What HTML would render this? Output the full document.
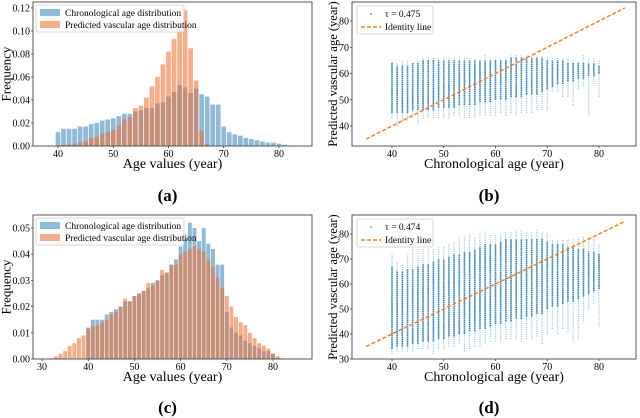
<!DOCTYPE html>
<html><head><meta charset="utf-8">
<style>
html,body{margin:0;padding:0;background:#fff;}
svg{display:block;font-family:"Liberation Serif","DejaVu Serif",serif;}
svg text{font-family:"Liberation Serif","DejaVu Serif",serif;}
</style></head>
<body>
<svg id="fig" width="640" height="418" viewBox="0 0 640 418"></svg>
<script>
// ---- data ----
const histAges = [32,33,34,35,36,37,38,39,40,41,42,43,44,45,46,47,48,49,50,51,52,53,54,55,56,57,58,59,60,61,62,63,64,65,66,67,68,69,70,71,72,73,74,75,76,77,78,79,80,81,82];
const chronoA = [0,0,0,0,0,0,0,0,0.012,0.015,0.015,0.015,0.017,0.017,0.019,0.020,0.022,0.023,0.024,0.026,0.028,0.028,0.030,0.031,0.033,0.033,0.037,0.038,0.043,0.047,0.053,0.051,0.046,0.050,0.045,0.043,0.036,0.036,0.017,0.012,0.010,0.009,0.007,0.006,0.005,0.004,0.003,0.003,0.002,0.001,0.0005];
const predA = [0,0,0,0,0,0,0,0,0,0.001,0.001,0.002,0.003,0.004,0.007,0.008,0.011,0.012,0.014,0.018,0.023,0.025,0.033,0.035,0.042,0.052,0.060,0.071,0.082,0.093,0.101,0.118,0.085,0.057,0.013,0.002,0,0,0,0,0,0,0,0,0,0,0,0,0,0,0];
const chronoC = [0,0,0,0,0,0,0,0,0.012,0.015,0.015,0.015,0.017,0.018,0.019,0.020,0.022,0.022,0.024,0.025,0.026,0.027,0.029,0.030,0.032,0.033,0.036,0.038,0.043,0.046,0.052,0.050,0.045,0.050,0.044,0.042,0.036,0.036,0.018,0.012,0.010,0.009,0.007,0.006,0.005,0.004,0.003,0.003,0.002,0.0005,0];
const predC = [0.0003,0.001,0.002,0.003,0.005,0.006,0.008,0.009,0.0115,0.0125,0.013,0.014,0.015,0.017,0.018,0.020,0.023,0.022,0.024,0.025,0.026,0.029,0.028,0.030,0.034,0.033,0.036,0.036,0.040,0.041,0.042,0.043,0.042,0.041,0.038,0.035,0.031,0.027,0.024,0.020,0.016,0.014,0.013,0.010,0.008,0.006,0.005,0.004,0.002,0.001,0.0003];
const scatAges = [40,41,42,43,44,45,46,47,48,49,50,51,52,53,54,55,56,57,58,59,60,61,62,63,64,65,66,67,68,69,70,71,72,73,74,75,76,77,78,79,80];
const loB = [43,40,42,42,43,41,43,43,43,43,43,43,44,44,43,43,43,44,44,44,44,45,44,45,44,45,45,45,46,46,46,53,53,51,51,48,54,55,44,56,51];
const hiB = [65,64,65,65,64,65,66,66,66,66,66,66,66,66,66,66,66,66,67,66,66,66,66,67,67,67,67,67,67,67,67,66,66,66,66,65,65,67,66,66,65];
const coreLoB = [45,45,45,45,46,46,46,46,46,47,47,47,47,48,48,48,48,49,49,49,50,50,50,51,51,51,52,52,52,53,54,55,56,56,57,57,58,58,59,59,60];
const coreHiB = [64,63,63,63,64,64,65,65,65,65,65,65,65,65,65,65,65,65,65,65,65,65,65,66,66,66,66,66,66,66,65,65,65,65,64,64,64,64,64,64,63];
const loD = [32,33,33,33,33,34,34,34,32,34,34,35,35,36,33,34,35,35,36,37,37,37,38,38,38,37,38,38,39,36,40,42,40,42,41,37,38,45,50,52,43];
const hiD = [72,69,68,72,74,74,74,74,74,75,75,76,77,79,79,80,79,81,81,80,80,80,81,81,82,82,81,81,82,81,80,78,78,78,78,78,78,79,79,78,76];
const coreLoD = [34,35,35,35,36,36,37,37,37,38,38,39,39,40,40,41,41,42,42,43,44,44,45,45,46,46,47,47,48,48,50,51,51,52,53,53,54,55,56,57,58];
const coreHiD = [67,65,65,66,66,67,68,68,69,70,70,71,72,72,73,73,74,75,76,76,76,77,78,78,78,78,78,78,78,78,77,76,76,76,75,75,74,74,73,73,72];
const ticksA_y = [0,0.02,0.04,0.06,0.08,0.10,0.12];
const ticksC_y = [0,0.01,0.02,0.03,0.04,0.05];
const ticksAx = [40,50,60,70,80];
const ticksCx = [30,40,50,60,70,80];
const ticksB_y = [40,50,60,70,80];
const ticksD_y = [30,40,50,60,70,80];

const NS="http://www.w3.org/2000/svg";
const svg=document.getElementById('fig');
function mk(tag,attrs,parent){const e=document.createElementNS(NS,tag);for(const k in attrs)e.setAttribute(k,attrs[k]);(parent||svg).appendChild(e);return e;}
function txt(x,y,s,size,anchor,parent,extra){const t=mk('text',Object.assign({x:x,y:y,'font-size':size,'text-anchor':anchor||'middle',fill:'#000'},extra||{}),parent);t.textContent=s;return t;}
function lin(d0,d1,r0,r1){return v=>r0+(v-d0)*(r1-r0)/(d1-d0);}

function axes(g,L,T,R,B,sx,sy,xt,yt,yfmt,xlabel,ylabel,panel,plabelY,ytx,ysize){
  xt.forEach(v=>{const x=sx(v);mk('line',{x1:x,x2:x,y1:B,y2:B+2,stroke:'#000','stroke-width':0.6},g);
    const t=txt(x,B+11,String(v),10,'middle',g);
    
    });
  yt.forEach(v=>{const y=sy(v);mk('line',{x1:L-2,x2:L,y1:y,y2:y,stroke:'#000','stroke-width':0.6},g);
    const t=txt(L-3,y+3.5,yfmt(v),10,'end',g);
    
    });
  const fr=mk('rect',{x:L,y:T,width:R-L,height:B-T,fill:'none',stroke:'#444','stroke-width':0.9},g);
  
  
  const xl=txt((L+R)/2,B+22,xlabel,14,'middle',g);
  
  
  const cy=(T+B)/2;
  const yl=txt(ytx,cy,ylabel,ysize,'middle',g,{transform:`rotate(-90 ${ytx} ${cy})`,'dominant-baseline':'central'});
  
  
  const pl=txt((L+R)/2-5,plabelY,panel,17,'middle',g,{'font-weight':'bold'});
  
  
}

function histPanel(name,L,T,R,B,sx,sy,ch,pr,xt,yt,dec,plab,plY,legY){
  const g=mk('g',{});
  
  
  const w=sx(0.85)-sx(0);
  histAges.forEach((a,i)=>{
    if(ch[i]>0){const r=mk('rect',{x:sx(a)-w/2,y:sy(ch[i]),width:w,height:sy(0)-sy(ch[i]),fill:'#1f77b4','fill-opacity':0.5},g);
      
      }
  });
  histAges.forEach((a,i)=>{
    if(pr[i]>0){const r=mk('rect',{x:sx(a)-w/2,y:sy(pr[i]),width:w,height:sy(0)-sy(pr[i]),fill:'#f0692a','fill-opacity':0.55},g);
      
      }
  });
  axes(g,L,T,R,B,sx,sy,xt,yt,v=>v.toFixed(dec),'Age values (year)','Frequency',plab,plY,6,13);
  const lg=mk('g',{},g);
  
  
  mk('rect',{x:L+3,y:legY,width:148,height:27,fill:'#fff','fill-opacity':0.8,stroke:'#ccc','stroke-width':0.8,rx:2},lg);
  const e1=mk('rect',{x:L+7,y:legY+4,width:20,height:7,fill:'#1f77b4','fill-opacity':0.5},lg);
  
  
  txt(L+32,legY+11,'Chronological age distribution',9.5,'start',lg);
  const e2=mk('rect',{x:L+7,y:legY+16,width:20,height:7,fill:'#f0692a','fill-opacity':0.55},lg);
  
  
  txt(L+32,legY+23,'Predicted vascular age distribution',9.5,'start',lg);
}

function scatPanel(name,L,T,R,B,sx,sy,lo,hi,clo,chi,yt,tau,plY,legY){
  const g=mk('g',{});
  
  
  scatAges.forEach((a,i)=>{
    const x=sx(a);
    const c1=mk('line',{x1:x,x2:x,y1:sy(lo[i]),y2:sy(hi[i]),stroke:'#1f77b4','stroke-width':1.3,'stroke-opacity':0.45,'stroke-dasharray':'1 1.2'},g);
    
    
    const c2=mk('line',{x1:x,x2:x,y1:sy(clo[i]),y2:sy(chi[i]),stroke:'#1f77b4','stroke-width':1.6,'stroke-opacity':0.85,'stroke-dasharray':'1.6 0.5'},g);
    
    
  });
  const id=mk('line',{x1:sx(35),y1:sy(35),x2:sx(85),y2:sy(85),stroke:'#ff7f0e','stroke-width':1.5,'stroke-dasharray':'4 2'},g);
  
  
  axes(g,L,T,R,B,sx,sy,ticksAx,yt,v=>String(v),'Chronological age (year)','Predicted vascular age (year)',name==='panel-b'?'(b)':'(d)',plY,L-19,12.5);
  const lg=mk('g',{},g);
  
  
  mk('rect',{x:L+5,y:legY,width:76,height:28,fill:'#fff','fill-opacity':0.8,stroke:'#ccc','stroke-width':0.8,rx:2},lg);
  mk('circle',{cx:L+19,cy:legY+8,r:0.8,fill:'#1f77b4'},lg);
  txt(L+33,legY+11,'τ = '+tau,9.5,'start',lg);
  mk('line',{x1:L+9,x2:L+29,y1:legY+21,y2:legY+21,stroke:'#ff7f0e','stroke-width':1.5,'stroke-dasharray':'4 2'},lg);
  txt(L+33,legY+24,'Identity line',9.5,'start',lg);
}

histPanel('panel-a',33,2,312,146,lin(40,80,58,279),lin(0,0.12,146,8),chronoA,predA,ticksAx,ticksA_y,2,'(a)',201,5);
histPanel('panel-c',33,215,312,359,lin(30,80,42,273),lin(0,0.05,359,228),chronoC,predC,ticksCx,ticksC_y,2,'(c)',413,218);
scatPanel('panel-b',352,2,636,146,lin(40,80,392,599),lin(40,80,126,21),loB,hiB,coreLoB,coreHiB,ticksB_y,'0.475',201,6);
scatPanel('panel-d',352,215,636,359,lin(40,80,392,599),lin(30,80,359,234),loD,hiD,coreLoD,coreHiD,ticksD_y,'0.474',413,219);
</script>
</body></html>
